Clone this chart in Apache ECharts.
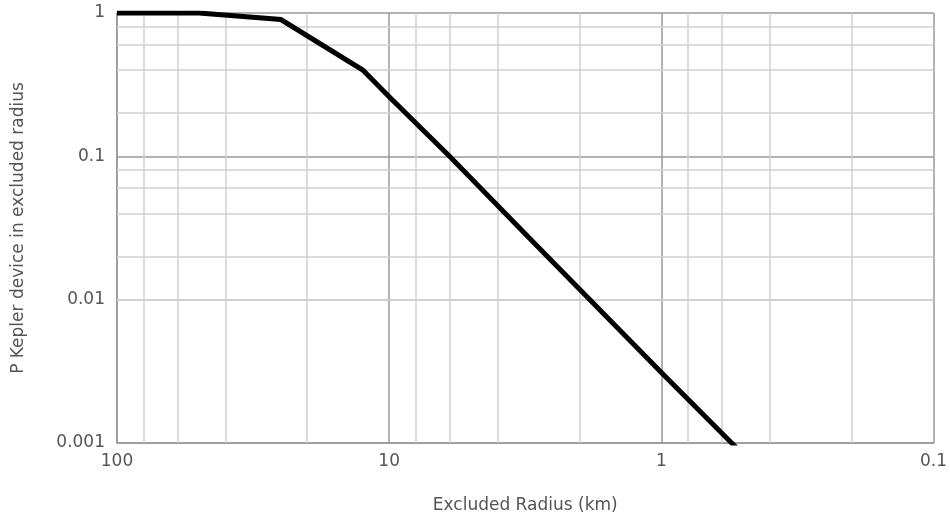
<!DOCTYPE html>
<html>
<head>
<meta charset="utf-8">
<script src="https://cdn.jsdelivr.net/npm/echarts@6/dist/echarts.min.js"></script>
<style>html,body{margin:0;padding:0;background:#fff}#c{width:950px;height:519px}</style>
</head>
<body>
<div id="c"></div>
<script>
const radiusKm = [100, 50, 25, 12.5, 10, 6, 3, 1, 0.5];
const probability = [1, 1, 0.9, 0.4, 0.26, 0.1, 0.026, 0.0031, 0.00083];
const xMinorLines = [80, 60, 40, 20, 8, 6, 4, 2, 0.8, 0.6, 0.4, 0.2];
const yMinorLines = [0.8, 0.6, 0.4, 0.2, 0.08, 0.06, 0.04, 0.02, 0.008, 0.006, 0.004, 0.002];
const xTitle = 'Excluded Radius (km)';
const yTitle = 'P Kepler device in excluded radius';

const font = 'DejaVu Sans';
const textColor = '#555';
const chart = echarts.init(document.getElementById('c'), null, {renderer: 'canvas'});

const minorData = xMinorLines.map(v => ({xAxis: v})).concat(yMinorLines.map(v => ({yAxis: v})));

chart.setOption({
  animation: false,
  backgroundColor: '#fff',
  grid: {left: 117, right: 13, top: 13, bottom: 76, containLabel: false},
  xAxis: {
    type: 'log', logBase: 10, min: 0.1, max: 100, inverse: true,
    name: xTitle, nameLocation: 'middle', nameGap: 54,
    nameTextStyle: {fontFamily: font, fontSize: 17, color: textColor},
    axisLine: {show: true, lineStyle: {color: '#999', width: 1.5}},
    axisTick: {show: false},
    axisLabel: {fontFamily: font, fontSize: 17, color: textColor, margin: 10,
      formatter: v => String(+v.toPrecision(6))},
    splitLine: {show: true, lineStyle: {color: '#999', width: 1.5}},
    minorTick: {show: false}, minorSplitLine: {show: false}
  },
  yAxis: {
    type: 'log', logBase: 10, min: 0.001, max: 1,
    name: yTitle, nameLocation: 'middle', nameGap: 90,
    nameTextStyle: {fontFamily: font, fontSize: 17, color: textColor},
    axisLine: {show: true, lineStyle: {color: '#999', width: 1.5}},
    axisTick: {show: false},
    axisLabel: {fontFamily: font, fontSize: 17, color: textColor, margin: 12,
      formatter: v => String(+v.toPrecision(6))},
    splitLine: {show: true, lineStyle: {color: '#999', width: 1.5}},
    minorTick: {show: false}, minorSplitLine: {show: false}
  },
  series: [
    {
      type: 'line', z: 1, silent: true,
      data: [],
      markLine: {
        silent: true, symbol: 'none', animation: false,
        label: {show: false},
        lineStyle: {color: '#d0d0d0', width: 1.5, type: 'solid'},
        emphasis: {disabled: true},
        data: minorData
      }
    },
    {
      type: 'line', z: 5,
      data: radiusKm.map((r, i) => [r, probability[i]]),
      showSymbol: false, symbol: 'none', clip: true,
      lineStyle: {color: '#000', width: 5, join: 'miter'}
    }
  ]
});
</script>
</body>
</html>
